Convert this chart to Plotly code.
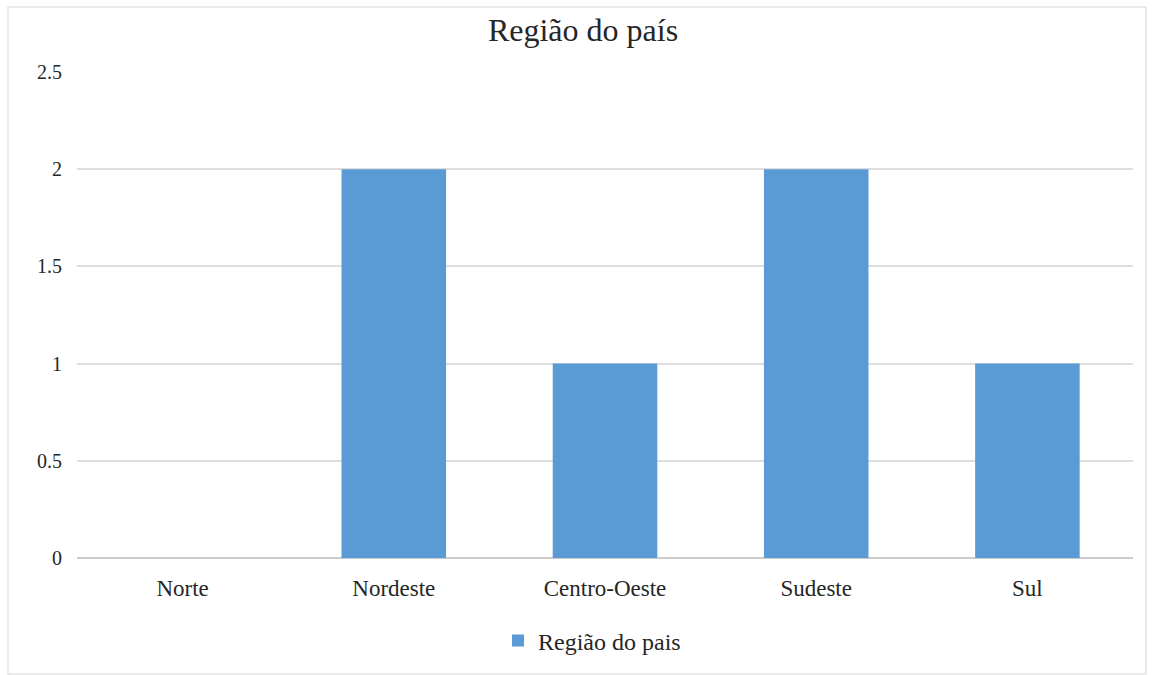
import plotly.graph_objects as go

categories = ["Norte", "Nordeste", "Centro-Oeste", "Sudeste", "Sul"]
values = [0, 2, 1, 2, 1]
series_name = "Região do pais"
title_text = "Região do país"
y_ticks = [0, 0.5, 1, 1.5, 2, 2.5]
y_tick_labels = ["0", "0.5", "1", "1.5", "2", "2.5"]

FONT = "Liberation Serif, Times New Roman, serif"
BAR = "#5b9bd5"

fig = go.Figure()
fig.add_trace(go.Bar(x=categories, y=values, name=series_name,
                     marker=dict(color=BAR, line=dict(width=0)),
                     showlegend=True))

L, R, T, B = 77, 20, 72, 117
W, H = 1153, 675
pw, ph = W - L - R, H - T - B

def px(x):
    return (x - L) / pw

def py(y):
    return (H - B - y) / ph

fig.update_layout(
    width=W, height=H,
    margin=dict(l=L, r=R, t=T, b=B),
    paper_bgcolor="white", plot_bgcolor="white",
    font=dict(family=FONT, size=20, color="#404040"),
    title=dict(text=title_text, x=px(583), xanchor="center", xref="paper",
               y=1 - 30 / H, yanchor="middle",
               font=dict(family=FONT, size=32, color="#262626")),
    bargap=0.505,
    showlegend=True,
    legend=dict(orientation="h", x=px(592), xanchor="center",
                y=py(641), yanchor="middle",
                font=dict(family=FONT, size=24, color="#262626"),
                itemwidth=30),
    xaxis=dict(showgrid=False, showline=False, ticks="", ticklabelstandoff=14,
               tickfont=dict(family=FONT, size=23, color="#262626")),
    yaxis=dict(range=[0, 2.5], tickvals=y_ticks, ticktext=y_tick_labels,
               showgrid=True, gridcolor="#dedede", gridwidth=1.5,
               zeroline=True, zerolinecolor="#cccccc", zerolinewidth=1.5,
               showline=False, ticks="", ticklabelstandoff=14,
               tickfont=dict(family=FONT, size=20, color="#262626")),
    shapes=[dict(type="rect", xref="paper", yref="paper",
                 x0=px(8), x1=px(1146), y0=py(674), y1=py(7),
                 line=dict(color="#e3e3e3", width=1.5), fillcolor="rgba(0,0,0,0)",
                 layer="below")],
)

fig.write_html("out.html")
